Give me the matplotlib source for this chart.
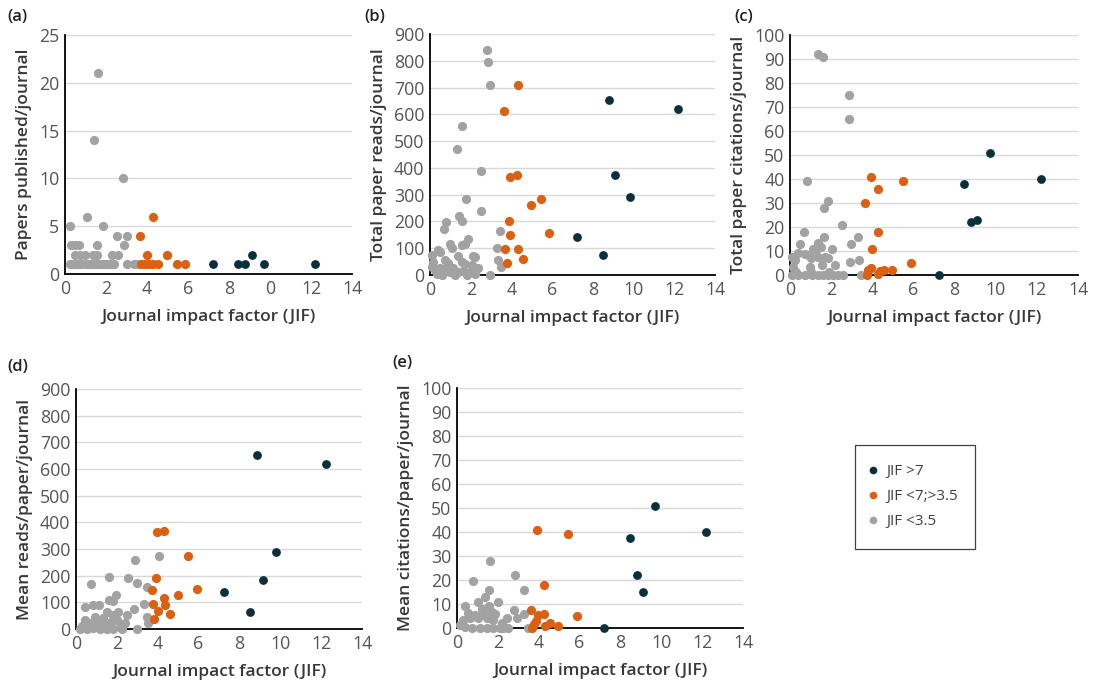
#!/usr/bin/env python3
''' Journal impact factor vs papers, reads and citations (5 panels). '''
import matplotlib
matplotlib.use('Agg')
import matplotlib.pyplot as plt
from matplotlib.lines import Line2D
from matplotlib.patches import Rectangle

plt.rcParams['font.family'] = ['Open Sans', 'DejaVu Sans']

W, H = 1097, 687

C_HI = '#0b2f3b'
C_MID = '#dc6011'
C_LO = '#a2a2a2'
GROUPS = ['JIF >7', 'JIF <7;>3.5', 'JIF <3.5']

# (a) papers published / journal
a_hi_x = [7.2, 8.45, 8.8, 9.1, 9.7, 12.2]
a_hi_y = [1, 1, 1, 2, 1, 1]
a_mid_x = [3.66, 4.29, 3.98, 4.98, 3.72, 3.9, 4.1, 4.29, 4.54, 5.46, 5.85]
a_mid_y = [4, 6, 2, 2, 1, 1, 1, 1, 1, 1, 1]
a_lo_x = [1.6, 1.4, 2.85, 1.05, 0.25, 1.85, 2.55, 3.04,
          0.3, 0.5, 0.7, 1.55, 2.9,
          0.49, 0.73, 0.98, 1.38, 1.55, 2.28, 2.6,
          0.25, 0.4, 0.55, 0.7, 0.85, 1.0, 1.15, 1.3, 1.45, 1.6, 1.75, 1.9, 2.05, 2.2, 2.4, 3.0, 3.35, 3.5]
a_lo_y = [21, 14, 10, 6, 5, 5, 4, 4,
          3, 3, 3, 3, 3,
          2, 2, 2, 2, 2, 2, 2,
          1, 1, 1, 1, 1, 1, 1, 1, 1, 1, 1, 1, 1, 1, 1, 1, 1, 1]

# (b) total paper reads / journal
b_hi_x = [8.8, 12.2, 9.1, 9.8, 7.2, 8.5]
b_hi_y = [655, 620, 372, 292, 143, 73]
b_mid_x = [4.3, 3.63, 3.93, 4.25, 5.45, 4.95, 3.9, 3.95, 5.85, 3.7, 4.3, 4.55, 3.77]
b_mid_y = [710, 612, 367, 372, 283, 262, 200, 150, 157, 97, 97, 60, 44]
b_lo_x = [2.78, 2.83, 2.95, 1.57, 1.34, 2.52, 1.78, 2.49, 1.44, 1.59, 0.79, 0.69,
          3.45, 1.88, 3.28, 1.59, 1.72, 1.0, 1.07, 0.38, 0.49, 0.08, 1.36, 2.13,
          2.21, 3.36, 0.74, 0.9, 1.56, 2.05, 3.49, 2.37, 2.95,
          0.08, 0.25, 0.49, 0.65, 0.82, 0.98, 1.15, 1.39, 1.64, 1.8, 1.97, 2.21,
          0.15, 0.35, 0.6, 1.25, 1.7]
b_lo_y = [840, 795, 710, 555, 470, 390, 283, 240, 220, 203, 197, 172,
          164, 136, 101, 113, 116, 116, 100, 93, 87, 75, 71, 71,
          68, 56, 56, 44, 50, 37, 29, 25, 0,
          31, 20, 25, 10, 31, 10, 25, 10, 15, 0, 10, 5,
          50, 5, 0, 0, 40]

# (c) total paper citations / journal
c_hi_x = [9.72, 12.2, 8.46, 8.8, 9.1, 7.23]
c_hi_y = [51, 40, 38, 22, 22.8, 0]
c_mid_x = [3.92, 5.5, 4.3, 3.66, 4.3, 4.0, 5.9, 3.92, 3.8, 3.74, 4.55, 4.38, 4.97, 4.3]
c_mid_y = [41, 39, 36, 30, 18, 11, 5, 3, 2, 0, 2, 1.5, 2, 0.5]
c_lo_x = [1.35, 1.6, 2.85, 2.85, 0.83, 1.83, 1.67, 2.54, 0.68, 1.64, 3.31,
          0.47, 1.38, 2.98, 1.1, 1.49, 2.04, 0.4, 0.73, 0.92, 1.25,
          0.08, 0.24, 1.02, 1.38, 1.7, 1.86, 2.93, 3.35, 2.19, 0.16, 0.97, 1.54,
          0.3, 1.0, 1.9,
          0.08, 0.4, 0.73, 1.05, 1.38, 1.62, 1.86, 2.1, 2.35, 2.59, 3.45]
c_lo_y = [92, 91, 75, 65, 39, 31, 28, 21, 18, 16, 16,
          13, 13.5, 13, 11, 11.5, 11, 9, 8.7, 8.3, 10.4,
          7.6, 6.2, 7, 7.6, 7.6, 7, 5.3, 6.2, 4.2, 3.5, 3.5, 4,
          1.4, 1.4, 1.4,
          0, 0, 0, 0, 0, 0, 0, 0, 0, 0, 0]

# (d) mean reads / paper / journal
d_hi_x = [8.84, 12.25, 9.77, 9.14, 7.26, 8.5]
d_hi_y = [653, 618, 288, 185, 137, 65]
d_mid_x = [3.95, 4.3, 5.48, 3.93, 3.7, 5.9, 5.0, 4.3, 3.75, 4.35, 4.0, 4.58, 3.82]
d_mid_y = [363, 368, 273, 193, 147, 150, 126, 115, 92, 90, 66, 55, 37]
d_lo_x = [2.9, 4.05, 1.62, 2.55, 3.0, 0.72, 3.48, 1.94, 1.63, 1.83, 0.42, 0.85,
          1.13, 3.33, 2.82, 2.07, 1.5, 3.49, 3.51, 2.97, 2.51,
          0.93, 1.34, 1.83, 1.99, 1.66, 0.69, 0.28, 0.2, 0.52, 0.85, 1.17, 1.5,
          1.83, 2.15, 2.24, 2.4, 1.26, 0.44, 1.05, 1.7, 0.6]
d_lo_y = [259, 272, 196, 190, 172, 169, 156, 129, 109, 106, 84, 89,
          89, 93, 75, 65, 65, 46, 21, 0, 52,
          46, 40, 52, 34, 15, 21, 11, 0, 0, 3, 0, 0,
          0, 9, 0, 21, 21, 34, 30, 25, 12]

# (e) mean citations / paper / journal
e_hi_x = [9.7, 12.2, 8.45, 8.8, 9.1, 7.2]
e_hi_y = [51, 40, 37.5, 22, 15, 0]
e_mid_x = [3.9, 5.45, 4.25, 5.85, 3.6, 3.95, 4.28, 3.85, 3.78, 3.68, 4.55, 4.3, 4.95]
e_mid_y = [41, 39, 18, 5, 7.5, 5.5, 6, 3, 1.5, 0, 2, 1, 1]
e_lo_x = [1.62, 2.84, 0.8, 3.28, 1.58, 1.37, 1.01, 1.99, 0.39, 2.79, 3.28,
          0.55, 0.88, 1.29, 1.7, 1.86, 2.92, 2.46, 0.31, 0.64, 1.04, 1.45, 1.78,
          0.15, 0.39, 0.72, 1.13, 1.45, 1.78, 2.1, 2.27, 2.51, 3.46, 1.2, 1.55, 2.2]
e_lo_y = [28, 22, 19.5, 16, 16, 13, 11, 11, 9, 7.5, 6,
          6.4, 5.4, 6.8, 6.8, 5.8, 4, 4, 3.3, 4, 4, 4, 3.3,
          1.2, 0.5, 0, 0, 0, 0, 0, 0, 0, 0, 8, 9, 2]

x_ticks = [0, 2, 4, 6, 8, 10, 12, 14]
a_xticklabels = ['0', '2', '4', '6', '8', '0', '12', '14']

panels = [
  # tag, box (left, top, right, bottom) in px, ylabel, ymax, ystep, data, tag pos
  ('(a)', (65, 35, 352, 274), 'Papers published/journal', 25, 5,
   (a_hi_x, a_hi_y, a_mid_x, a_mid_y, a_lo_x, a_lo_y), (7, 9)),
  ('(b)', (430, 34, 715, 275), 'Total paper reads/journal', 900, 100,
   (b_hi_x, b_hi_y, b_mid_x, b_mid_y, b_lo_x, b_lo_y), (364, 9)),
  ('(c)', (790, 35, 1078, 275), 'Total paper citations/journal', 100, 10,
   (c_hi_x, c_hi_y, c_mid_x, c_mid_y, c_lo_x, c_lo_y), (734, 9)),
  ('(d)', (76, 389, 362, 629), 'Mean reads/paper/journal', 900, 100,
   (d_hi_x, d_hi_y, d_mid_x, d_mid_y, d_lo_x, d_lo_y), (7, 359)),
  ('(e)', (457, 388, 743, 628), 'Mean citations/paper/journal', 100, 10,
   (e_hi_x, e_hi_y, e_mid_x, e_mid_y, e_lo_x, e_lo_y), (392, 355)),
]


def main():
  fig = plt.figure(figsize=(W/100, H/100), dpi=100)
  for tag, (l, t, r, b), ylabel, ymax, ystep, data, (tx, ty) in panels:
    ax = fig.add_axes([l/W, 1 - b/H, (r - l)/W, (b - t)/H])
    hx, hy, mx, my, lx, ly = data
    ax.scatter(lx, ly, s=44, color=C_LO, linewidths=0, zorder=3, clip_on=False)
    ax.scatter(mx, my, s=44, color=C_MID, linewidths=0, zorder=4, clip_on=False)
    ax.scatter(hx, hy, s=40, color=C_HI, linewidths=0, zorder=5, clip_on=False)
    ax.set_xlim(0, 14)
    ax.set_ylim(0, ymax)
    ax.set_xticks(x_ticks)
    if tag == '(a)':
      ax.set_xticklabels(a_xticklabels)
    ax.set_yticks(range(0, ymax + 1, ystep))
    ax.grid(axis='y', color='#d9d9d9', linewidth=1.0, zorder=0)
    ax.set_axisbelow(True)
    for s in ('top', 'right'):
      ax.spines[s].set_visible(False)
    for s in ('left', 'bottom'):
      ax.spines[s].set_color('black')
      ax.spines[s].set_linewidth(1.3)
      ax.spines[s].set_zorder(2)
    ax.tick_params(length=0, labelsize=12.8, labelcolor='#555555', pad=4)
    ax.set_xlabel('Journal impact factor (JIF)', fontsize=12.5, fontweight='semibold',
                  color='#383838', labelpad=8)
    ax.set_ylabel(ylabel, fontsize=12.5, fontweight='semibold', color='#383838', labelpad=5)
    fig.text(tx/W, 1 - ty/H, tag, fontsize=12, fontweight='semibold', color='#222222',
             ha='left', va='top')

  # Legend: frame drawn separately so the padding can be uneven, as in the original.
  fig.patches.append(Rectangle((855/W, 1 - 549/H), 120/W, 104/H, transform=fig.transFigure,
                               fill=False, edgecolor='#404040', linewidth=0.9))
  handles = [Line2D([], [], marker='o', linestyle='', markersize=5.5, color=c, markeredgewidth=0)
             for c in (C_HI, C_MID, C_LO)]
  leg = fig.legend(handles, GROUPS, loc='upper left', bbox_to_anchor=(866/W, 1 - 464/H),
                   frameon=False, fontsize=11, handletextpad=0.45, handlelength=0.9,
                   borderpad=0, labelspacing=0.65, borderaxespad=0)
  for txt in leg.get_texts():
    txt.set_color('#404040')

  fig.savefig('out.png', dpi=100)


if __name__ == '__main__':
  main()
